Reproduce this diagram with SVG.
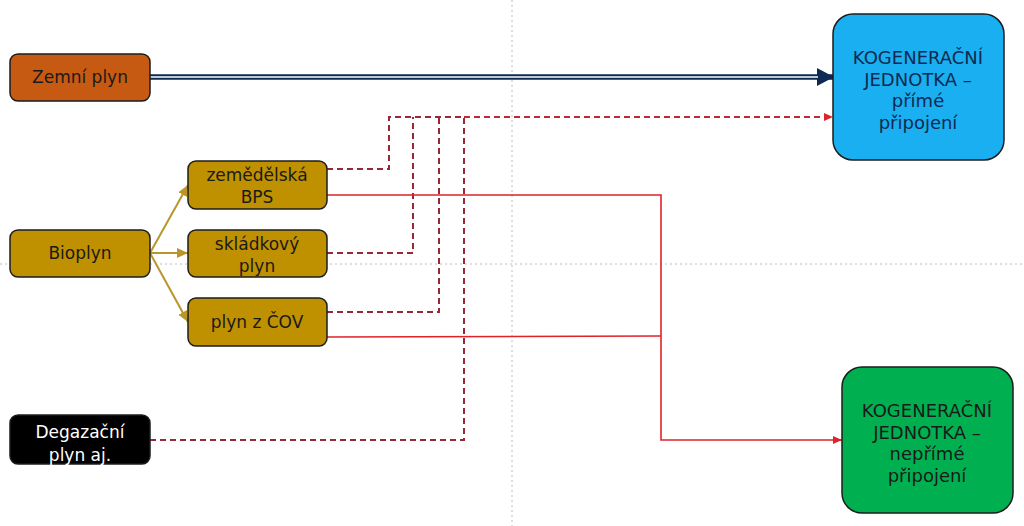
<svg xmlns="http://www.w3.org/2000/svg" width="1024" height="526" viewBox="0 0 1024 526">
<style>
.box{stroke:#1c1c1c;stroke-width:1.5}
.t{font-family:"DejaVu Sans",Verdana,sans-serif;font-size:17px;text-anchor:middle}
.k{font-size:18px}
.dark{fill:#1a1a1a}
.navy{fill:#0e2a52}
.white{fill:#ffffff}
.dash{fill:none;stroke:#962838;stroke-width:2;stroke-dasharray:6 4}
.red{fill:none;stroke:#e0222a;stroke-width:1.6}
.gold{fill:none;stroke:#b8962a;stroke-width:2}
.guide{fill:none;stroke:#b8bcc8;stroke-width:1;stroke-dasharray:2 3}
</style>
<defs>
<marker id="navyArrow" markerUnits="userSpaceOnUse" markerWidth="20" markerHeight="20" refX="17" refY="10" orient="auto">
<path d="M0,1 L17,10 L0,19 Z" fill="#0e2a52"/>
</marker>
<marker id="redArrow" markerUnits="userSpaceOnUse" markerWidth="10" markerHeight="10" refX="9" refY="5" orient="auto">
<path d="M0,1 L9,5 L0,9 Z" fill="#e0222a"/>
</marker>
<marker id="goldArrow" markerUnits="userSpaceOnUse" markerWidth="12" markerHeight="12" refX="11" refY="6" orient="auto">
<path d="M0,1 L11,6 L0,11 Z" fill="#b8962a"/>
</marker>
</defs>
<g id="guides">
<line class="guide" x1="512" y1="0" x2="512" y2="526"/>
<line class="guide" x1="0" y1="264" x2="1024" y2="264"/>
</g>
<g id="connectors">
<line x1="150" y1="77" x2="834" y2="77" stroke="#0e2a52" stroke-width="5.5" marker-end="url(#navyArrow)"/>
<line x1="150" y1="77" x2="818" y2="77" stroke="#ffffff" stroke-width="1.5"/>
<line class="gold" x1="150" y1="253" x2="188" y2="185" marker-end="url(#goldArrow)"/>
<line class="gold" x1="150" y1="253" x2="188" y2="253" marker-end="url(#goldArrow)"/>
<line class="gold" x1="150" y1="253" x2="188" y2="322" marker-end="url(#goldArrow)"/>
<polyline class="dash" points="327,169 389,169 389,117 464,117"/>
<polyline class="dash" points="327,253 413,253 413,117"/>
<polyline class="dash" points="327,312 439,312 439,117"/>
<polyline class="dash" points="150,440 464,440 464,117"/>
<line x1="464" y1="117" x2="833" y2="117" fill="none" stroke="#c02838" stroke-width="1.8" stroke-dasharray="6 4" marker-end="url(#redArrow)"/>
<polyline class="red" points="327,195 661,195 661,440 842,440" marker-end="url(#redArrow)"/>
<polyline class="red" points="327,337 661,336"/>
</g>
<g id="zemni-plyn">
<rect class="box" x="10" y="54" width="140" height="47" rx="8" fill="#c65a12"/>
<text class="t dark" x="80" y="83">Zemní plyn</text>
</g>
<g id="bioplyn">
<rect class="box" x="10" y="230" width="140" height="47" rx="8" fill="#bf9000"/>
<text class="t dark" x="80" y="259">Bioplyn</text>
</g>
<g id="zemedelska-bps">
<rect class="box" x="188" y="161" width="139" height="48" rx="8" fill="#bf9000"/>
<text class="t dark" x="257" y="181">zemědělská</text>
<text class="t dark" x="257" y="203">BPS</text>
</g>
<g id="skladkovy-plyn">
<rect class="box" x="188" y="230" width="139" height="47" rx="8" fill="#bf9000"/>
<text class="t dark" x="257" y="250">skládkový</text>
<text class="t dark" x="257" y="272">plyn</text>
</g>
<g id="plyn-z-cov">
<rect class="box" x="188" y="298" width="139" height="48" rx="8" fill="#bf9000"/>
<text class="t dark" x="257" y="328">plyn z ČOV</text>
</g>
<g id="degazacni-plyn">
<rect class="box" x="10" y="415" width="140" height="49" rx="8" fill="#000000"/>
<text class="t white" x="80" y="438">Degazační</text>
<text class="t white" x="80" y="461">plyn aj.</text>
</g>
<g id="kj-prime">
<rect class="box" x="833" y="14" width="171" height="146" rx="20" fill="#1aaff0"/>
<text class="t k navy" x="918" y="64">KOGENERAČNÍ</text>
<text class="t k navy" x="918" y="86">JEDNOTKA –</text>
<text class="t k navy" x="918" y="107">přímé</text>
<text class="t k navy" x="918" y="129">připojení</text>
</g>
<g id="kj-neprime">
<rect class="box" x="842" y="367" width="171" height="146" rx="20" fill="#00b050"/>
<text class="t k dark" x="927" y="417">KOGENERAČNÍ</text>
<text class="t k dark" x="927" y="439">JEDNOTKA –</text>
<text class="t k dark" x="927" y="460">nepřímé</text>
<text class="t k dark" x="927" y="482">připojení</text>
</g>
</svg>
